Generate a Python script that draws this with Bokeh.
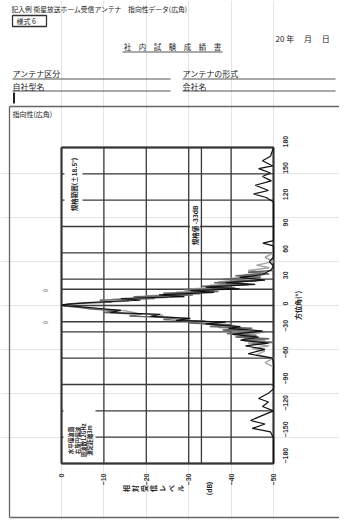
import math
from bokeh.plotting import figure
from bokeh.models import LinearAxis, FixedTicker, Range1d, ColumnDataSource
from bokeh.core.properties import value
from bokeh.embed import file_html
from bokeh.resources import INLINE

# ---------------- data ----------------
level_ticks = [0, -10, -20, -30, -40, -50]
angle_ticks = [180, 150, 120, 90, 60, 30, 0, -30, -60, -90, -120, -150, -180]
spec_level = -33
spec_angles = [18.5, -18.5]

angle_a = [180, 170, 165, 159, 156, 151, 147, 142, 137, 131, 127, 123, 118, 100, 80, 74, 71, 68, 55, 50,
           45, 41, 35, 32, 29, 26, 24, 21, 19, 17, 15, 12, 10, 8, 6, 3.4, 1, 0, -1, -3.4,
           -5.6, -8, -10, -12.4, -14.7, -17, -19, -21, -24, -26, -29, -33, -36, -39.5, -43, -46, -50, -55, -60, -66,
           -80, -95, -100, -106, -110, -115, -120, -126, -131, -135, -140, -144, -151, -165, -180]
level_a = [-50, -49.3, -47.4, -49.8, -46.5, -49.3, -47.4, -49.5, -45.7, -48.8, -45.3, -48.3, -50, -50, -50, -50, -47.5, -50, -50, -49,
           -50, -49.5, -47.4, -42, -48, -38.7, -45.7, -34, -42, -30.4, -36, -23, -29, -14, -18.6, -6.8, -0.5, 0, -3.3, -9.2,
           -14, -11.5, -23.3, -21, -30.4, -27, -38.7, -34, -42.2, -39.4, -47.4, -40.3, -46.5, -42.2, -48.8, -43.4, -48, -44, -49.8, -50,
           -50, -50, -48.8, -46.5, -48.8, -47.4, -50, -47, -44.6, -48, -45, -49.3, -50, -50, -50]

angle_b = [40, 38, 36, 34, 32, 30, 28, 26, 24, 22, 20, 18, 16, 14, 12, 10, 8, 6, 4, 2,
           0.5, -0.5, -2, -4, -6, -8, -10, -12, -14, -16, -18, -20, -22, -24, -26, -28, -30, -32, -34, -36,
           -38, -40, -42, -44]
level_b = [-50, -44, -49, -41, -47, -38, -46, -36, -44, -33, -41, -29, -37, -24, -31, -17, -22, -9, -12, -2,
           -0.3, -0.8, -4, -7, -13, -10, -19, -16, -27, -24, -34, -30, -40, -35, -45, -38, -48, -39, -46, -41,
           -49, -43, -50, -45]

angle_c = [60, 55, 50, 46, 43, 40, 37, 35, 33, 31, 29, 27, 25, 23, 21, 19, 17, 15, 13, 11,
           9, 7, 5, 3, 1, 0, -2, -4, -6, -9, -11, -13, -15, -17, -19, -21, -23, -25, -27, -29,
           -31, -33, -35, -37, -40, -43, -46, -49, -52, -56, -60, -65, -70]
level_c = [-50, -48, -50, -46, -49, -44, -48, -43, -47, -40, -46, -37, -43, -35, -40, -31, -36, -27, -33, -20,
           -25, -12, -16, -5, -1.5, -0.6, -5, -9, -15, -18, -24, -22, -30, -28, -36, -33, -41, -37, -44, -40,
           -47, -42, -46, -43, -48, -44, -49, -45, -48, -46, -50, -48, -50]

# ---------------- page layout (canvas pixels -> chart units) ----------------
PX0, PX_PER_DB = 61.0, 212.0 / 50.0
PY0, PY_PER_DEG = 305.0, 316.0 / 360.0
CW, CH = 339, 519


def dx(px):
    return -(px - PX0) / PX_PER_DB


def dy(py):
    return (PY0 - py) / PY_PER_DEG


JP = "Noto Sans CJK JP"
INK = "#222222"

p = figure(width=CW, height=CH, x_range=Range1d(dx(0), dx(CW)), y_range=Range1d(dy(CH), dy(0)),
           output_backend="svg", toolbar_location=None, x_axis_location=None, y_axis_location=None,
           min_border=0, title=None)
p.outline_line_color = None
p.background_fill_color = "white"
p.border_fill_color = "white"

# ---------------- chart grid ----------------
amin, amax = min(angle_ticks), max(angle_ticks)
lmin, lmax = min(level_ticks), max(level_ticks)
vx = level_ticks + [spec_level]
p.segment(x0=vx, x1=vx, y0=[amin] * len(vx), y1=[amax] * len(vx), line_color="#3a3a3a", line_width=1.3)
hy = angle_ticks + spec_angles
p.segment(x0=[lmax] * len(hy), x1=[lmin] * len(hy), y0=hy, y1=hy, line_color="#3a3a3a", line_width=1.3)


def white_box(x1, y1, x2, y2):
    p.quad(left=dx(x1), right=dx(x2), top=dy(y1), bottom=dy(y2), fill_color="white", line_color=None)


white_box(64, 152, 82, 214)
white_box(189.5, 204, 199.5, 246)
white_box(63, 402, 95, 460)

# frame
p.segment(x0=[lmax, lmin, lmax, lmax], x1=[lmax, lmin, lmin, lmin],
          y0=[amin, amin, amax, amin], y1=[amax, amax, amax, amin], line_color="#333333", line_width=2)

# ---------------- curves ----------------
p.line(level_c, angle_c, line_color="#a6a6a6", line_width=1.5)
p.line(level_b, angle_b, line_color="#666666", line_width=1.5)
p.line(level_a, angle_a, line_color="#111111", line_width=1.2)

# ---------------- axes ----------------
axis_style = dict(major_label_orientation=math.pi / 2, axis_line_color=None, major_tick_line_color=None,
                  minor_tick_line_color=None, major_label_text_font_size="7px",
                  major_label_text_font="Liberation Sans", major_label_text_font_style="bold",
                  major_label_text_color="#333333")
xa = LinearAxis(fixed_location=amin, bounds=(lmin, lmax), ticker=FixedTicker(ticks=level_ticks),
                major_label_standoff=4, **axis_style)
p.add_layout(xa, "below")
ya = LinearAxis(fixed_location=lmin, bounds=(amin, amax), ticker=FixedTicker(ticks=angle_ticks),
                major_label_standoff=6, **axis_style)
p.add_layout(ya, "right")


def txt(items, size="7px", angle=0.0, align="left", color=INK, style="normal"):
    src = ColumnDataSource(dict(x=[dx(i[0]) for i in items], y=[dy(i[1]) for i in items],
                                t=[i[2] for i in items]))
    p.text(x="x", y="y", text="t", source=src, angle=angle, text_font=value(JP),
           text_font_size=value(size), text_align=align, text_baseline="middle",
           text_color=color, text_font_style=style)


# header
txt([(11, 8, "記入例 衛星放送ホーム受信アンテナ　指向性データ(広角)")], size="6.8px")
p.quad(left=dx(12), right=dx(46), top=dy(15), bottom=dy(26), fill_color=None, line_color="#333333", line_width=1.3)
txt([(16, 20.5, "様式 6")], size="7px")
txt([(275, 38, "20 年　 月　 日")], size="8px")
txt([(172, 46, "社　内　試　験　成　績　書")], size="7.5px", align="center")
txt([(12, 73, "アンテナ区分"), (182, 73, "アンテナの形式"), (12, 86, "自社型名"), (182, 86, "会社名")], size="8px")
ux0 = [12, 182, 12, 182, 122]
ux1 = [170, 335, 170, 335, 222]
uy = [78.5, 78.5, 90.5, 90.5, 51.5]
p.segment(x0=[dx(v) for v in ux0], x1=[dx(v) for v in ux1], y0=[dy(v) for v in uy], y1=[dy(v) for v in uy],
          line_color="#555555", line_width=1.2)
p.segment(x0=[dx(13.5)], x1=[dx(13.5)], y0=[dy(92)], y1=[dy(103)], line_color="#222222", line_width=2)

# page box
p.segment(x0=[dx(9), dx(9), dx(9)], x1=[dx(9), dx(345), dx(345)],
          y0=[dy(106), dy(106), dy(517)], y1=[dy(517), dy(106), dy(517)], line_color="#666666", line_width=1.3)
txt([(12, 113, "指向性(広角)")], size="7px")

# chart annotations (rotated)
R = math.pi / 2
txt([(73, 184, "規格範囲(±18.5°)")], size="6.5px", angle=R, align="center", style="bold")
txt([(194, 225, "規格値 -33dB")], size="6.5px", angle=R, align="center", style="bold")
txt([(70, 440, "水平偏波面"), (77, 440, "右旋円偏波"), (83.5, 440, "周波数12GHz"), (89.5, 440, "測定距離3m")],
    size="5.5px", angle=R, align="center", style="bold")
txt([(45, 290, "θ"), (45, 322, "θ")], size="6px", angle=R, align="center", color="#777777")
txt([(297, 305, "方位角(°)")], size="7px", angle=R, align="center", style="bold")
title_chars = list("相対受信レベル")
txt([(125 + 9 * i, 488, c) for i, c in enumerate(title_chars)], size="7px", angle=R, align="center", style="bold")
txt([(208, 488, "(dB)")], size="6.5px", angle=R, align="center", style="bold")

open("out.html", "w").write(file_html(p, INLINE))
